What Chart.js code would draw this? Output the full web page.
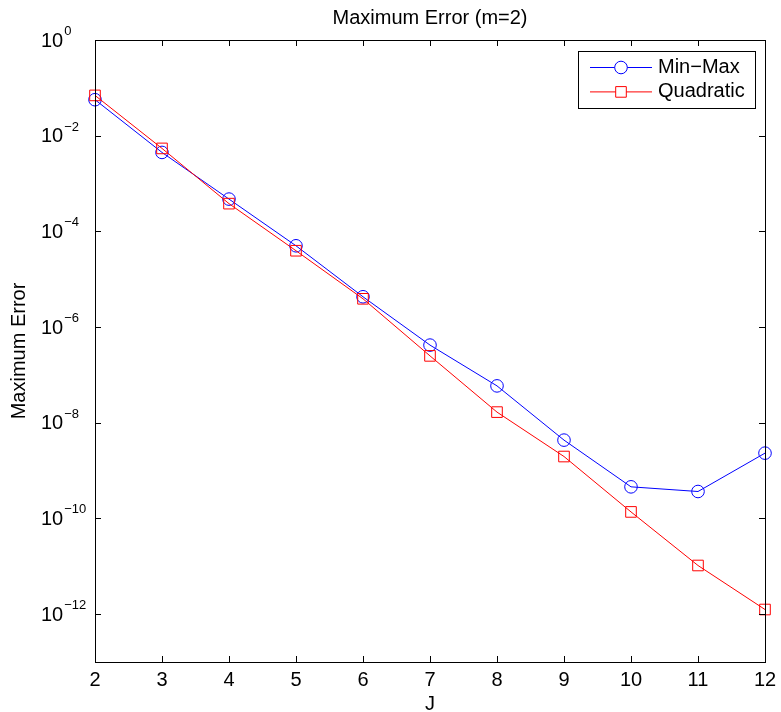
<!DOCTYPE html>
<html>
<head>
<meta charset="utf-8">
<title>Maximum Error (m=2)</title>
<script src="https://cdn.jsdelivr.net/npm/chart.js@4.4.1/dist/chart.umd.min.js"></script>
<style>
  html, body { margin: 0; padding: 0; background: #ffffff; }
  canvas { display: block; }
</style>
</head>
<body>
<canvas id="chart" width="781" height="712"></canvas>
<script>
// Refinement level J and the maximum error of each approximation
const levels = [2, 3, 4, 5, 6, 7, 8, 9, 10, 11, 12];
const minMaxError = [5.65e-2, 4.47e-3, 4.73e-4, 5.0e-5, 4.3e-6, 4.2e-7, 5.9e-8, 4.34e-9, 4.58e-10, 3.66e-10, 2.32e-9];
const quadraticError = [6.95e-2, 5.42e-3, 3.8e-4, 3.94e-5, 3.9e-6, 2.5e-7, 1.67e-8, 1.97e-9, 1.37e-10, 1.04e-11, 1.25e-12];

const seriesNames = ['Min\u2212Max', 'Quadratic'];
const seriesColors = ['#0000ff', '#ff0000'];

// Axis ticks and text
const xTicks = [2, 3, 4, 5, 6, 7, 8, 9, 10, 11, 12];
const yTickExponents = [0, -2, -4, -6, -8, -10, -12];
const chartTitle = 'Maximum Error (m=2)';
const xTitle = 'J';
const yTitle = 'Maximum Error';

const FONT = '"Liberation Sans", Arial, Helvetica, sans-serif';
const FONT_SIZE = 20;
const EXP_SIZE = 13;
const TICK_LEN = 6;

function toPoints(values) {
  return levels.map((j, i) => ({ x: j, y: values[i] }));
}

function expText(e) {
  return e < 0 ? '\u2212' + String(-e) : String(e);
}

// Boxed axes with inward ticks, tick labels with superscript exponents, axis titles
const boxedAxes = {
  id: 'boxedAxes',
  afterDatasetsDraw(chart) {
    const { ctx, chartArea: a, scales: { x, y } } = chart;
    ctx.save();
    ctx.strokeStyle = '#000000';
    ctx.lineWidth = 1;
    ctx.strokeRect(a.left + 0.5, a.top + 0.5, a.right - a.left, a.bottom - a.top);

    ctx.beginPath();
    xTicks.forEach(v => {
      const px = Math.round(x.getPixelForValue(v)) + 0.5;
      ctx.moveTo(px, a.bottom);
      ctx.lineTo(px, a.bottom - TICK_LEN);
      ctx.moveTo(px, a.top);
      ctx.lineTo(px, a.top + TICK_LEN);
    });
    yTickExponents.forEach(e => {
      const py = Math.round(y.getPixelForValue(Math.pow(10, e))) + 0.5;
      ctx.moveTo(a.left, py);
      ctx.lineTo(a.left + TICK_LEN, py);
      ctx.moveTo(a.right, py);
      ctx.lineTo(a.right - TICK_LEN, py);
    });
    ctx.stroke();

    ctx.fillStyle = '#000000';
    // x tick labels
    ctx.font = FONT_SIZE + 'px ' + FONT;
    ctx.textAlign = 'center';
    ctx.textBaseline = 'middle';
    xTicks.forEach(v => {
      ctx.fillText(String(v), x.getPixelForValue(v), a.bottom + 18);
    });

    // y tick labels: 10 with a raised exponent
    yTickExponents.forEach(e => {
      const py = y.getPixelForValue(Math.pow(10, e));
      const x0 = a.left - 54;
      ctx.font = FONT_SIZE + 'px ' + FONT;
      ctx.textAlign = 'left';
      ctx.textBaseline = 'middle';
      ctx.fillText('10', x0, py + 1);
      const w = ctx.measureText('10').width;
      ctx.font = EXP_SIZE + 'px ' + FONT;
      ctx.textBaseline = 'alphabetic';
      ctx.fillText(expText(e), x0 + w + 1, py - 5);
    });

    // axis titles
    ctx.font = FONT_SIZE + 'px ' + FONT;
    ctx.textAlign = 'center';
    ctx.textBaseline = 'middle';
    ctx.fillText(xTitle, (a.left + a.right) / 2, a.bottom + 42);
    ctx.save();
    ctx.translate(19.5, (a.top + a.bottom) / 2);
    ctx.rotate(-Math.PI / 2);
    ctx.fillText(yTitle, 0, 0);
    ctx.restore();
    ctx.restore();
  },
  afterDraw(chart) {
    // legend box in the upper right corner of the axes
    const { ctx, chartArea: a } = chart;
    const boxW = 177, boxH = 57;
    const bx = Math.round(a.right - 10 - boxW), by = Math.round(a.top + 11);
    ctx.save();
    ctx.fillStyle = '#ffffff';
    ctx.fillRect(bx, by, boxW, boxH);
    ctx.strokeStyle = '#000000';
    ctx.lineWidth = 1;
    ctx.strokeRect(bx + 0.5, by + 0.5, boxW, boxH);

    const styles = chart.data.datasets.map(d => d.pointStyle);
    const radii = chart.data.datasets.map(d => d.pointRadius);
    seriesNames.forEach((name, i) => {
      const cy = by + 16.5 + i * 24.4;
      ctx.strokeStyle = seriesColors[i];
      ctx.lineWidth = 1;
      ctx.beginPath();
      ctx.moveTo(bx + 12, cy);
      ctx.lineTo(bx + 74, cy);
      ctx.stroke();
      ctx.fillStyle = '#ffffff';
      Chart.helpers.drawPoint(ctx, { pointStyle: styles[i], radius: radii[i], borderWidth: 1 }, bx + 43, cy);
      ctx.fillStyle = '#000000';
      ctx.font = FONT_SIZE + 'px ' + FONT;
      ctx.textAlign = 'left';
      ctx.textBaseline = 'middle';
      ctx.fillText(name, bx + 80, cy);
    });
    ctx.restore();
  }
};

new Chart(document.getElementById('chart'), {
  type: 'line',
  data: {
    datasets: [
      {
        label: seriesNames[0],
        data: toPoints(minMaxError),
        borderColor: seriesColors[0],
        backgroundColor: 'rgba(0,0,0,0)',
        borderWidth: 1,
        pointStyle: 'circle',
        pointRadius: 6.3,
        pointBorderWidth: 1,
        pointBorderColor: seriesColors[0],
        pointBackgroundColor: 'rgba(0,0,0,0)',
        tension: 0,
        clip: false,
        order: 1
      },
      {
        label: seriesNames[1],
        data: toPoints(quadraticError),
        borderColor: seriesColors[1],
        backgroundColor: 'rgba(0,0,0,0)',
        borderWidth: 1,
        pointStyle: 'rect',
        pointRadius: 7.5,
        pointBorderWidth: 1,
        pointBorderColor: seriesColors[1],
        pointBackgroundColor: 'rgba(0,0,0,0)',
        tension: 0,
        clip: false,
        order: 0
      }
    ]
  },
  options: {
    responsive: false,
    animation: false,
    events: [],
    layout: { padding: { left: 95, right: 16, top: 0, bottom: 50 } },
    scales: {
      x: { type: 'linear', min: 2, max: 12, display: false },
      y: { type: 'logarithmic', min: 1e-13, max: 1, display: false }
    },
    plugins: {
      legend: { display: false },
      tooltip: { enabled: false },
      title: {
        display: true,
        text: chartTitle,
        color: '#000000',
        font: { family: FONT, size: FONT_SIZE, weight: 'normal' },
        padding: { top: 6, bottom: 10 }
      }
    }
  },
  plugins: [boxedAxes]
});
</script>
</body>
</html>
